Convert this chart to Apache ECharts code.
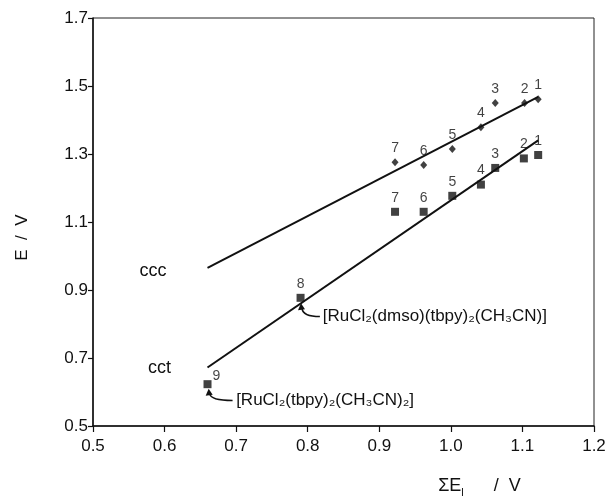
<!DOCTYPE html>
<html>
<head>
<meta charset="utf-8">
<script src="https://cdn.jsdelivr.net/npm/echarts@6/dist/echarts.min.js"></script>
<style>
    html, body { margin: 0; padding: 0; background: #fff; }
    #main { width: 609px; height: 497px; }
</style>
</head>
<body>
<div id="main"></div>
<script>
// ccc complexes (diamonds), numbered 1..7
var cccX = [1.122, 1.103, 1.062, 1.042, 1.002, 0.962, 0.922];
var cccY = [1.461, 1.450, 1.450, 1.379, 1.315, 1.268, 1.276];
var cccNum = ['1', '2', '3', '4', '5', '6', '7'];

// cct complexes (squares), numbered 1..9
var cctX = [1.122, 1.102, 1.062, 1.042, 1.002, 0.962, 0.922, 0.790, 0.660];
var cctY = [1.297, 1.287, 1.259, 1.210, 1.177, 1.130, 1.130, 0.877, 0.623];
var cctNum = ['1', '2', '3', '4', '5', '6', '7', '8', '9'];

// fitted lines
var fitX = [0.660, 1.122];
var cccFitY = [0.965, 1.468];
var cctFitY = [0.672, 1.340];

// axis ticks
var xTicks = [0.5, 0.6, 0.7, 0.8, 0.9, 1.0, 1.1, 1.2];
var yTicks = [0.5, 0.7, 0.9, 1.1, 1.3, 1.5, 1.7];

var numFont = { fontFamily: 'Liberation Sans', fontSize: 14, color: '#111' };

function pairs(xs, ys) {
    return xs.map(function(x, i) { return [x, ys[i]]; });
}

function numbered(xs, ys, nums) {
    return xs.map(function(x, i) {
        var item = { value: [x, ys[i]], name: nums[i] };
        if (nums[i] === '9') {
            item.label = { position: 'right', distance: 1, offset: [0, -8] };
        }
        return item;
    });
}

var chart = echarts.init(document.getElementById('main'));

var option = {
    backgroundColor: '#fff',
    animation: false,
    grid: {
        left: 93,
        right: 15,
        top: 18,
        bottom: 71,
        show: true,
        borderColor: '#222',
        borderWidth: 1
    },
    xAxis: {
        type: 'value',
        min: xTicks[0],
        max: xTicks[xTicks.length - 1],
        interval: 0.1,
        axisLine: { show: true, onZero: false, lineStyle: { color: '#111', width: 1.5 } },
        axisTick: { show: true, inside: false, length: 6, lineStyle: { color: '#111', width: 1.2 } },
        splitLine: { show: false },
        axisLabel: {
            margin: 12,
            fontFamily: 'Liberation Sans',
            fontSize: 17,
            color: '#111',
            formatter: function(v) { return v.toFixed(1); }
        }
    },
    yAxis: {
        type: 'value',
        min: yTicks[0],
        max: yTicks[yTicks.length - 1],
        interval: 0.2,
        axisLine: { show: true, onZero: false, lineStyle: { color: '#111', width: 1.5 } },
        axisTick: { show: true, inside: false, length: 5, lineStyle: { color: '#111', width: 1.2 } },
        splitLine: { show: false },
        axisLabel: {
            margin: 5,
            fontFamily: 'Liberation Sans',
            fontSize: 17,
            color: '#111',
            formatter: function(v) { return v.toFixed(1); }
        }
    },
    series: [{
            name: 'ccc fit',
            type: 'line',
            data: pairs(fitX, cccFitY),
            showSymbol: false,
            lineStyle: { color: '#111', width: 2 },
            z: 2
        },
        {
            name: 'cct fit',
            type: 'line',
            data: pairs(fitX, cctFitY),
            showSymbol: false,
            lineStyle: { color: '#111', width: 2 },
            z: 2
        },
        {
            name: 'ccc',
            type: 'scatter',
            symbol: 'diamond',
            symbolSize: [7, 8],
            itemStyle: { color: '#111' },
            data: numbered(cccX, cccY, cccNum),
            label: Object.assign({
                show: true,
                position: 'top',
                distance: 3,
                formatter: '{b}'
            }, numFont),
            z: 3
        },
        {
            name: 'cct',
            type: 'scatter',
            symbol: 'rect',
            symbolSize: 8,
            itemStyle: { color: '#111' },
            data: numbered(cctX, cctY, cctNum),
            label: Object.assign({
                show: true,
                position: 'top',
                distance: 3,
                formatter: '{b}'
            }, numFont),
            z: 3
        }
    ]
};

chart.setOption(option);

function px(x, y) {
    return chart.convertToPixel({ gridIndex: 0 }, [x, y]);
}

function textAt(x, y, str, extra) {
    var p = px(x, y);
    return {
        type: 'text',
        x: p[0],
        y: p[1],
        style: Object.assign({
            text: str,
            fontFamily: 'Liberation Sans',
            fontSize: 18,
            fill: '#111',
            align: 'center',
            verticalAlign: 'middle'
        }, extra || {})
    };
}

// hooked arrow: tip near the point, tail running right towards the formula
function hook(tx, ty, ex, ey) {
    var a = px(tx, ty), b = px(ex, ey);
    return [{
        type: 'bezierCurve',
        shape: { x1: a[0], y1: a[1] + 3, x2: b[0], y2: b[1], cpx1: a[0] + 1, cpy1: b[1] },
        style: { stroke: '#111', lineWidth: 1.5, fill: null }
    }, {
        type: 'polygon',
        shape: { points: [[a[0] - 1, a[1] - 2], [a[0] - 4, a[1] + 5], [a[0] + 3, a[1] + 4]] },
        style: { fill: '#111' }
    }];
}

var graphics = [
    textAt(0.584, 0.956, 'ccc'),
    textAt(0.593, 0.670, 'cct'),
    textAt(0.821, 0.823, '[RuCl₂(dmso)(tbpy)₂(CH₃CN)]', { align: 'left', fontSize: 17 }),
    textAt(0.700, 0.577, '[RuCl₂(tbpy)₂(CH₃CN)₂]', { align: 'left', fontSize: 17 })
].concat(hook(0.792, 0.855, 0.817, 0.822), hook(0.663, 0.604, 0.695, 0.575));

// axis names
var yName = px(0.5, 1.054);
graphics.push({
    type: 'text',
    x: 22,
    y: yName[1],
    rotation: Math.PI / 2,
    style: {
        text: 'E  /  V',
        fontFamily: 'Liberation Sans',
        fontSize: 17,
        fill: '#111',
        align: 'center',
        verticalAlign: 'middle'
    }
});
var xName = px(1.04, 0.5);
graphics.push({
    type: 'text',
    x: xName[0],
    y: 486,
    style: {
        text: '{a|ΣE}{s|l}{a|      /  V}',
        align: 'center',
        verticalAlign: 'middle',
        rich: {
            a: { fontFamily: 'Liberation Sans', fontSize: 18, fill: '#111', verticalAlign: 'bottom' },
            s: { fontFamily: 'Liberation Sans', fontSize: 11, fill: '#111', verticalAlign: 'bottom', padding: [0, 0, -3, 0] }
        }
    }
});

chart.setOption({ graphic: graphics });
</script>
</body>
</html>
